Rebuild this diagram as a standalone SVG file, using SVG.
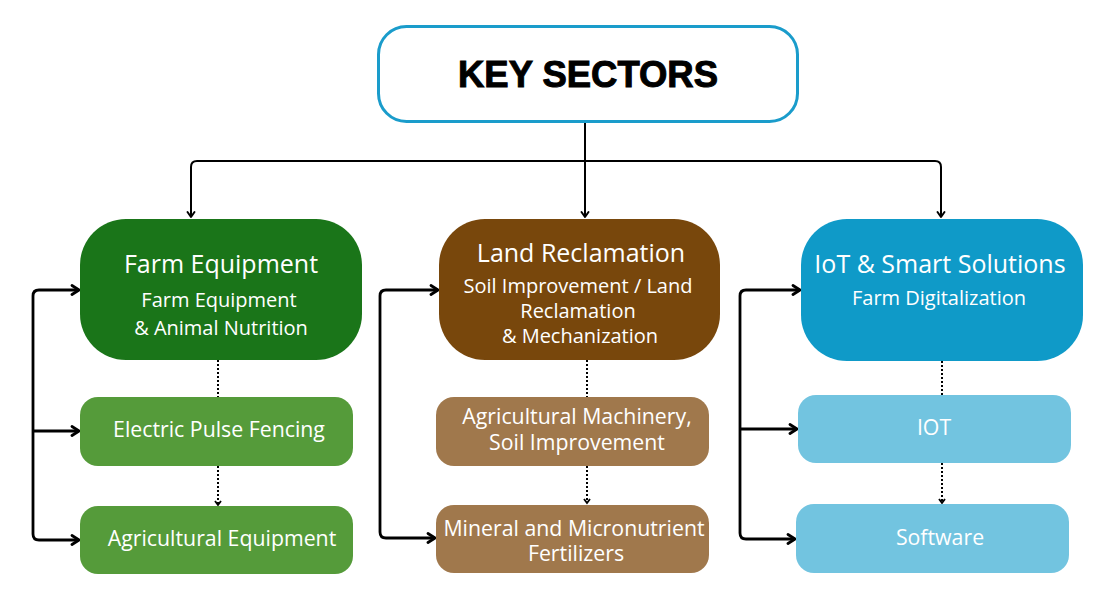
<svg xmlns="http://www.w3.org/2000/svg" width="1111" height="613" viewBox="0 0 1111 613">
<style>
  .t{font-family:"Open Sans","Noto Sans","Liberation Sans",sans-serif;fill:#fff;text-anchor:middle}
  .h{font-size:25px}
  .s{font-size:20px}
  .c{font-size:21.3px}
  .conn{fill:none;stroke:#000;stroke-linejoin:round}
  .thin{stroke-width:2}
  .thick{stroke-width:2.8}
  .dot{fill:none;stroke:#000;stroke-width:2;stroke-dasharray:2 2}
</style>
<defs>
  <marker id="ah" markerUnits="userSpaceOnUse" viewBox="0 0 12 12" markerWidth="12" markerHeight="12" refX="10" refY="6" orient="auto-start-reverse">
    <path d="M3,1.5 L10,6 L3,10.5" fill="none" stroke="#000" stroke-width="2.8" stroke-linecap="round" stroke-linejoin="round"/>
  </marker>
  <marker id="as" markerUnits="userSpaceOnUse" viewBox="0 0 10 10" markerWidth="10" markerHeight="10" refX="8" refY="5" orient="auto">
    <path d="M3,1.5 L8,5 L3,8.5" fill="none" stroke="#000" stroke-width="2" stroke-linecap="round" stroke-linejoin="round"/>
  </marker>
  <marker id="ad" markerUnits="userSpaceOnUse" viewBox="0 0 10 10" markerWidth="10" markerHeight="10" refX="8" refY="5" orient="auto">
    <path d="M4,2 L8,5 L4,8" fill="none" stroke="#000" stroke-width="1.8"/>
  </marker>
</defs>
<rect width="1111" height="613" fill="#fff"/>

<g id="connectors">
  <path class="conn thin" d="M585,122 V161"/>
  <path class="conn thin" d="M585,161 H197 Q191,161 191,167 V217" marker-end="url(#as)"/>
  <path class="conn thin" d="M585,161 H935 Q941,161 941,167 V217" marker-end="url(#as)"/>
  <path class="conn thin" d="M585,161 V217" marker-end="url(#as)"/>

  <path class="conn thick" d="M79,290 H39 Q33,290 33,296 V534 Q33,540 39,540 H79" marker-start="url(#ah)" marker-end="url(#ah)"/>
  <path class="conn thick" d="M33,431 H79" marker-end="url(#ah)"/>

  <path class="conn thick" d="M438,290 H386 Q380,290 380,296 V532 Q380,538 386,538 H435" marker-start="url(#ah)" marker-end="url(#ah)"/>

  <path class="conn thick" d="M800,290 H746 Q740,290 740,296 V533 Q740,539 746,539 H795" marker-start="url(#ah)" marker-end="url(#ah)"/>
  <path class="conn thick" d="M740,429 H797" marker-end="url(#ah)"/>

  <path class="dot" d="M218,360 V397"/>
  <path class="dot" d="M218,466 V505" marker-end="url(#ad)"/>
  <path class="dot" d="M587,360 V397"/>
  <path class="dot" d="M587,466 V503" marker-end="url(#ad)"/>
  <path class="dot" d="M942,361 V395"/>
  <path class="dot" d="M942,463 V503" marker-end="url(#ad)"/>
</g>

<g id="key-sectors">
  <rect x="378.5" y="26.5" width="419" height="95" rx="28" fill="#fff" stroke="#1a9ccb" stroke-width="3"/>
  <text x="588" y="87" font-family="'Liberation Sans',Arial,sans-serif" font-weight="900" font-size="37" text-anchor="middle" textLength="260" lengthAdjust="spacingAndGlyphs" fill="#000" stroke="#000" stroke-width="1">KEY SECTORS</text>
</g>

<g id="farm-equipment">
  <rect x="80" y="219" width="282" height="141" rx="46" fill="#1a7519"/>
  <text class="t h" x="221" y="273">Farm Equipment</text>
  <text class="t s" x="219" y="307">Farm Equipment</text>
  <text class="t s" x="221" y="335">&amp; Animal Nutrition</text>
</g>
<g id="electric-pulse-fencing">
  <rect x="80" y="397" width="273" height="69" rx="18" fill="#559b3a"/>
  <text class="t c" x="219" y="437">Electric Pulse Fencing</text>
</g>
<g id="agricultural-equipment">
  <rect x="80" y="506" width="273" height="68" rx="18" fill="#559b3a"/>
  <text class="t c" x="222" y="546">Agricultural Equipment</text>
</g>

<g id="land-reclamation">
  <rect x="439" y="219" width="281" height="141" rx="46" fill="#78470c"/>
  <text class="t h" x="581" y="262">Land Reclamation</text>
  <text class="t s" x="578" y="293">Soil Improvement / Land</text>
  <text class="t s" x="578" y="318">Reclamation</text>
  <text class="t s" x="580" y="343">&amp; Mechanization</text>
</g>
<g id="agricultural-machinery">
  <rect x="436" y="397" width="273" height="69" rx="18" fill="#a0784c"/>
  <text class="t c" x="577" y="424">Agricultural Machinery,</text>
  <text class="t c" x="577" y="450">Soil Improvement</text>
</g>
<g id="mineral-fertilizers">
  <rect x="436" y="505" width="273" height="68" rx="18" fill="#a0784c"/>
  <text class="t c" x="574" y="536">Mineral and Micronutrient</text>
  <text class="t c" x="576" y="561">Fertilizers</text>
</g>

<g id="iot-smart-solutions">
  <rect x="801" y="219" width="282" height="142" rx="46" fill="#0f9ac8"/>
  <text class="t h" x="940" y="273">IoT &amp; Smart Solutions</text>
  <text class="t s" x="939" y="305">Farm Digitalization</text>
</g>
<g id="iot">
  <rect x="798" y="395" width="273" height="68" rx="18" fill="#72c4e0"/>
  <text class="t c" x="934" y="435">IOT</text>
</g>
<g id="software">
  <rect x="796" y="504" width="273" height="69" rx="18" fill="#72c4e0"/>
  <text class="t c" x="940" y="545">Software</text>
</g>
</svg>
